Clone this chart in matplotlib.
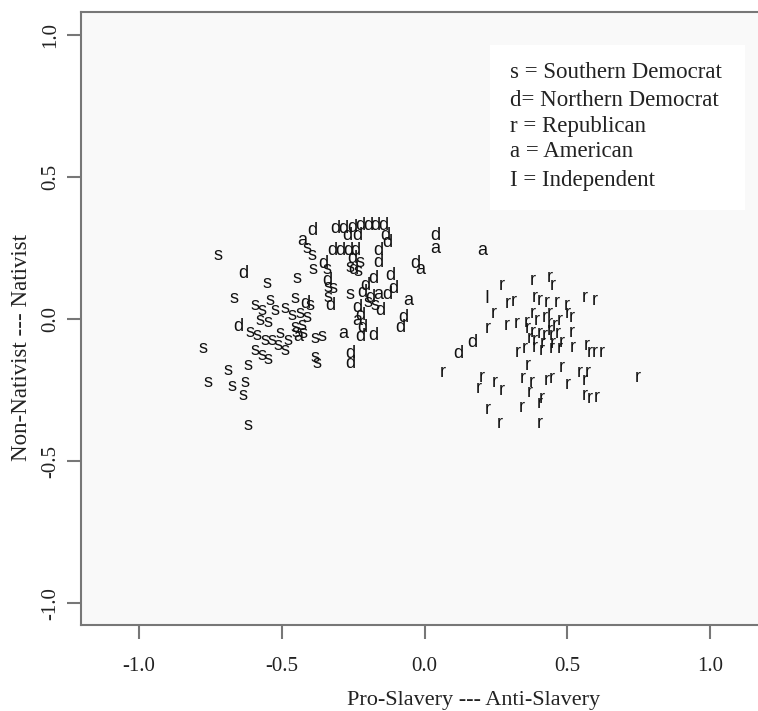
import matplotlib.pyplot as plt
from matplotlib.patches import Rectangle

# ideal points, first dimension (slavery) and second dimension (nativism)
south_x = [-0.723, -0.667, -0.776, -0.758, -0.688, -0.674, -0.629, -0.636, -0.618, -0.618,
           -0.552, -0.447, -0.454, -0.594, -0.569, -0.541, -0.524, -0.489, -0.464, -0.576,
           -0.548, -0.611, -0.587, -0.559, -0.534, -0.506, -0.478, -0.450, -0.429, -0.594,
           -0.569, -0.548, -0.513, -0.489, -0.412, -0.394, -0.391, -0.342, -0.338, -0.320,
           -0.338, -0.261, -0.384, -0.359, -0.384, -0.377, -0.401, -0.436, -0.412, -0.454,
           -0.426, -0.261, -0.226, -0.233, -0.173, -0.198]
south_y = [0.225, 0.074, -0.102, -0.222, -0.180, -0.236, -0.222, -0.268, -0.165, -0.373,
           0.127, 0.144, 0.074, 0.049, 0.032, 0.067, 0.032, 0.039, 0.014, -0.004,
           -0.011, -0.046, -0.056, -0.074, -0.074, -0.049, -0.074, -0.046, -0.021, -0.109,
           -0.127, -0.144, -0.092, -0.109, 0.250, 0.225, 0.173, 0.173, 0.113, 0.109,
           0.077, 0.085, -0.067, -0.063, -0.134, -0.155, 0.049, 0.021, 0.007, -0.028,
           -0.049, 0.183, 0.201, 0.166, 0.049, 0.060]

north_x = [-0.636, -0.653, -0.394, -0.313, -0.285, -0.254, -0.226, -0.198, -0.173, -0.145,
           -0.271, -0.236, -0.138, -0.131, -0.163, -0.324, -0.296, -0.268, -0.243, -0.254,
           -0.163, -0.356, -0.342, -0.331, -0.180, -0.121, -0.208, -0.219, -0.191, -0.131,
           -0.110, -0.075, -0.086, -0.033, 0.037, -0.236, -0.226, -0.219, -0.180, -0.226,
           -0.261, -0.261, -0.419, 0.117, 0.166, -0.250, -0.156]
north_y = [0.162, -0.025, 0.313, 0.320, 0.320, 0.324, 0.331, 0.331, 0.331, 0.331,
           0.296, 0.296, 0.296, 0.271, 0.243, 0.243, 0.243, 0.243, 0.243, 0.215,
           0.201, 0.197, 0.137, 0.049, 0.144, 0.155, 0.120, 0.092, 0.077, 0.085,
           0.109, 0.004, -0.028, 0.197, 0.296, 0.042, 0.014, -0.028, -0.056, -0.063,
           -0.120, -0.155, 0.056, -0.120, -0.081, 0.173, 0.032]

rep_x = [0.271, 0.243, 0.292, 0.313, 0.222, 0.289, 0.324, 0.065, 0.201, 0.191,
         0.247, 0.271, 0.222, 0.327, 0.380, 0.440, 0.450, 0.562, 0.597, 0.387,
         0.405, 0.429, 0.464, 0.499, 0.380, 0.440, 0.503, 0.517, 0.359, 0.363,
         0.440, 0.440, 0.380, 0.405, 0.422, 0.447, 0.468, 0.517, 0.370, 0.387,
         0.450, 0.482, 0.352, 0.387, 0.412, 0.447, 0.475, 0.520, 0.569, 0.580,
         0.597, 0.622, 0.363, 0.482, 0.545, 0.573, 0.345, 0.377, 0.370, 0.429,
         0.447, 0.503, 0.562, 0.748, 0.562, 0.580, 0.604, 0.412, 0.405, 0.341,
         0.405, 0.264, 0.394, 0.422, 0.457, 0.415, 0.475]
rep_y = [0.120, 0.021, 0.056, 0.063, -0.032, -0.021, -0.014, -0.187, -0.204, -0.243,
         -0.225, -0.250, -0.320, -0.116, 0.137, 0.148, 0.120, 0.077, 0.067, 0.077,
         0.067, 0.060, 0.060, 0.049, 0.021, 0.021, 0.021, 0.004, -0.011, -0.032,
         -0.014, -0.039, -0.046, -0.049, -0.056, -0.056, -0.049, -0.046, -0.067, -0.074,
         -0.085, -0.081, -0.102, -0.099, -0.109, -0.102, -0.102, -0.099, -0.092, -0.116,
         -0.116, -0.116, -0.162, -0.169, -0.187, -0.187, -0.208, -0.222, -0.257, -0.215,
         -0.208, -0.232, -0.215, -0.204, -0.268, -0.278, -0.275, -0.278, -0.296, -0.313,
         -0.366, -0.366, -0.004, 0.004, -0.021, -0.085, -0.004]

amer_x = [0.201, 0.037, -0.016, -0.058, -0.163, -0.236, -0.285, -0.443, -0.429]
amer_y = [0.243, 0.250, 0.173, 0.067, 0.085, -0.004, -0.049, -0.063, 0.278]

ind_x = [0.219]
ind_y = [0.074]

groups = [("s", south_x, south_y), ("d", north_x, north_y), ("r", rep_x, rep_y),
          ("a", amer_x, amer_y), ("I", ind_x, ind_y)]

legend_lines = ["s = Southern Democrat", "d= Northern Democrat", "r = Republican",
                "a = American", "I = Independent"]

serif = "Liberation Serif"
grey = "#777777"

fig = plt.figure(figsize=(7.58, 7.11), dpi=100)
ax = fig.add_axes([0.107, 0.121, 0.893, 0.862])
ax.set_facecolor("#f9f9f9")

for letter, xs, ys in groups:
    for x, y in zip(xs, ys):
        ax.text(x, y, letter, ha="center", va="center", fontsize=13,
                family="Liberation Sans", color="#111111")

ax.set_xlim(-1.203, 1.168)
ax.set_ylim(-1.077, 1.081)
ticks = [-1.0, -0.5, 0.0, 0.5, 1.0]
ax.set_xticks(ticks)
ax.set_yticks(ticks)
ax.set_xticklabels(["%.1f" % t for t in ticks], family=serif, fontsize=15)
ax.set_yticklabels(["%.1f" % t for t in ticks], family=serif, fontsize=15,
                   rotation=90, va="center")
ax.tick_params(axis="x", length=10, width=1.5, color=grey, pad=13)
ax.tick_params(axis="y", length=10, width=1.5, color=grey, pad=5)
ax.tick_params(labelcolor="#222222")

for side in ["left", "bottom", "top"]:
    ax.spines[side].set_color(grey)
    ax.spines[side].set_linewidth(1.5)
ax.spines["right"].set_visible(False)

ax.set_xlabel("Pro-Slavery --- Anti-Slavery", family=serif, fontsize=16,
              color="#222222", labelpad=11)
ax.set_ylabel("Non-Nativist --- Nativist", family=serif, fontsize=16.5,
              color="#222222", labelpad=7)
# the original figure was cropped on the right, so the axis titles sit off-centre
ax.xaxis.label.set_x(0.58)
ax.yaxis.label.set_y(0.452)

ax.add_patch(Rectangle((0.604, 0.677), 0.377, 0.269, transform=ax.transAxes,
                       facecolor="white", edgecolor="none", zorder=0.5))
legend_y = [0.902, 0.856, 0.814, 0.772, 0.726]
for line, ly in zip(legend_lines, legend_y):
    ax.text(0.634, ly, line, transform=ax.transAxes, ha="left", va="center",
            family=serif, fontsize=16.5, color="#222222")

fig.savefig("out.png", dpi=100)
